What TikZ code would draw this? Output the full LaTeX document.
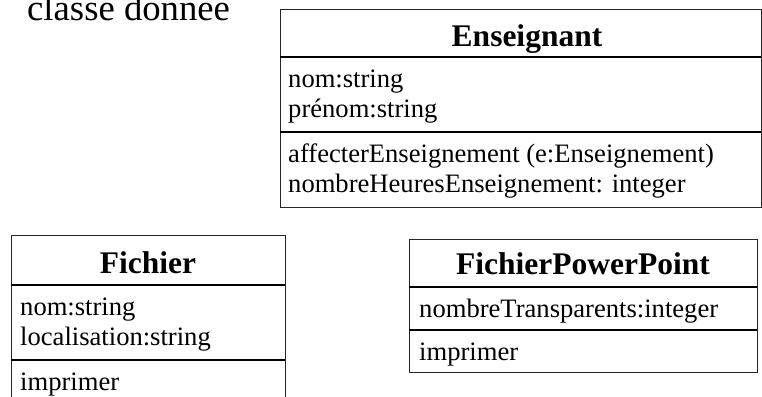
\documentclass[tikz,border=0pt]{standalone}
\usepackage{fontspec}
\setmainfont{Liberation Serif}
\begin{document}
\begin{tikzpicture}[x=1pt,y=-1pt,
  boxline/.style={draw=black!85,line width=0.9pt},
  divline/.style={draw=black,line width=1.3pt},
  classtitle/.style={anchor=base,inner sep=0pt,font=\fontsize{31.5}{36}\selectfont\bfseries},
  item/.style={anchor=base west,inner sep=0pt,font=\fontsize{26.6}{30}\selectfont},
  captiontext/.style={anchor=base west,inner sep=0pt,font=\fontsize{36.7}{42}\selectfont}]
\useasboundingbox (0,0) rectangle (762,396);
\clip (0,0) rectangle (762,396);

% caption
\node[captiontext] (cap) at (27,20.5) {classe donnée};

% Enseignant
\draw[boxline] (280,9) rectangle (761,207);
\draw[divline] (280,57) -- (761,57);
\draw[divline] (280,132) -- (761,132);
\node[classtitle] (ens) at (527,46) {Enseignant};
\node[item] (ens1) at (288,87) {nom:string};
\node[item] (ens2) at (288,117) {prénom:string};
\node[item] (ens3) at (288,162) {affecterEnseignement (e:Enseignement)};
\node[item] (ens4) at (288,192) {nombreHeuresEnseignement: integer};

% Fichier
\draw[boxline] (11,235) rectangle (285,430);
\draw[divline] (11,285) -- (285,285);
\draw[divline] (11,360) -- (285,360);
\node[classtitle] (fic) at (148,273) {Fichier};
\node[item] (fic1) at (20,315) {nom:string};
\node[item] (fic2) at (20,345) {localisation:string};
\node[item] (fic3) at (20,390) {imprimer};

% FichierPowerPoint
\draw[boxline] (409,239) rectangle (757,372);
\draw[divline] (409,287) -- (757,287);
\draw[divline] (409,330) -- (757,330);
\node[classtitle] (fpp) at (583,274) {FichierPowerPoint};
\node[item] (fpp1) at (419,317) {nombreTransparents:integer};
\node[item] (fpp2) at (419,360) {imprimer};
\end{tikzpicture}
\end{document}
